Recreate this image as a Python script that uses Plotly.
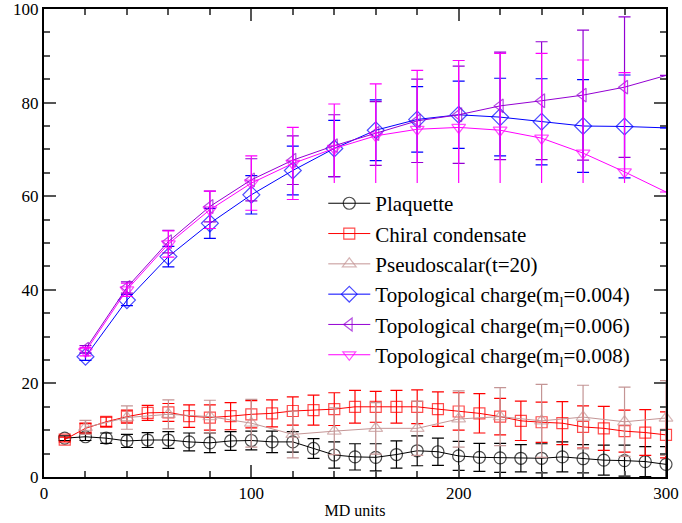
import plotly.graph_objects as go

# ---------------- data ----------------
md_a = [10, 20, 30, 40, 50, 60, 70, 80, 90, 100, 110, 120, 130, 140, 150,
        160, 170, 180, 190, 200, 210, 220, 230, 240, 250, 260, 270, 280, 290, 300]
plaquette = [8.3, 8.6, 8.3, 7.7, 7.9, 7.9, 7.5, 7.3, 7.7, 7.8, 7.5, 7.5, 6.1, 4.7, 4.3,
             4.2, 4.8, 5.6, 5.4, 4.5, 4.2, 4.1, 4.0, 4.0, 4.3, 3.9, 3.6, 3.5, 3.3, 2.7]
plaquette_err = [0.5, 0.8, 1.1, 1.4, 1.6, 1.8, 1.9, 2.1, 2.0, 2.0, 2.3, 2.2, 2.1, 2.8, 2.8,
                 2.9, 2.9, 3.2, 2.9, 3.1, 3.0, 3.1, 2.9, 3.1, 3.2, 3.0, 3.2, 3.3, 3.2, 3.8]
chiral = [8.0, 10.4, 11.8, 12.9, 13.7, 13.8, 13.0, 12.7, 13.0, 13.4, 13.6, 14.1, 14.3, 14.5, 15.0,
          15.0, 15.0, 15.0, 14.5, 14.0, 13.6, 12.9, 12.0, 11.7, 11.5, 10.7, 10.4, 9.8, 9.5, 9.0]
chiral_err = [0.5, 1.0, 1.0, 1.4, 1.6, 1.9, 2.4, 2.7, 2.9, 2.9, 2.9, 3.0, 3.2, 3.5, 3.5,
              3.3, 3.5, 3.6, 3.7, 4.0, 4.2, 3.9, 4.2, 4.3, 4.6, 4.5, 4.7, 4.5, 4.9, 4.9]

md_b = [20, 40, 60, 80, 100, 120, 140, 160, 180, 200, 220, 240, 260, 280, 300]
pseudo = [10.6, 12.7, 13.4, 12.9, 11.5, 9.1, 9.8, 10.4, 10.4, 12.4, 12.9, 12.0, 12.8, 11.8, 12.6]
pseudo_err = [1.5, 2.5, 3.1, 3.5, 5.1, 5.0, 5.0, 5.5, 5.8, 6.0, 6.2, 7.8, 6.8, 7.4, 8.0]
topo004 = [25.7, 37.8, 47.1, 54.2, 60.3, 65.5, 70.2, 74.1, 76.4, 77.4, 76.9, 75.9, 75.0, 74.9, 74.6]
topo004_err = [0.8, 1.2, 2.2, 3.2, 4.1, 5.2, 6.0, 6.5, 7.0, 7.2, 8.3, 9.2, 9.9, 11.0, None]
topo006 = [27.3, 40.5, 50.3, 57.8, 63.5, 67.7, 70.8, 73.4, 76.1, 77.4, 79.3, 80.4, 81.6, 83.3, 85.8]
topo006_err = [0.8, 1.2, 2.4, 3.3, 4.5, 5.2, 6.6, 6.8, 8.9, 10.4, 11.5, 12.6, 13.9, 15.0, None]
topo008 = [26.8, 40.0, 49.8, 57.1, 62.8, 67.0, 70.2, 72.9, 74.3, 74.7, 74.1, 72.4, 69.2, 65.2, 60.9]
topo008_err = [0.9, 1.4, 2.8, 4.0, 5.8, 7.7, 9.5, 11.1, 12.6, 14.3, 16.4, 18.1, 19.9, 21.2, None]

x_ticks = [0, 100, 200, 300]
y_ticks = [0, 20, 40, 60, 80, 100]

# ---------------- figure ----------------
FONT = "Liberation Serif"
fig = go.Figure()


def add(x, y, err, name, color, symbol, size=12, last_hidden=False, clip=True):
    sizes = [size] * len(x)
    if last_hidden:
        sizes[-1] = 0
    fig.add_trace(go.Scatter(
        x=x, y=y, name=name, mode="lines+markers",
        line=dict(color=color, width=1),
        marker=dict(symbol=symbol, size=sizes, color=color, line=dict(color=color, width=1.2)),
        error_y=dict(type="data", array=err, visible=True, color=color, thickness=1.2, width=6),
        cliponaxis=clip,
    ))


add(md_a, plaquette, plaquette_err, "Plaquette", "#000000", "circle-open", 12, clip=False)
add(md_a, chiral, chiral_err, "Chiral condensate", "#ff0000", "square-open", 11, clip=False)
add(md_b, pseudo, pseudo_err, "Pseudoscalar(t=20)", "#c49595", "triangle-up-open", 12, clip=False)
add(md_b, topo004, topo004_err, "Topological charge(m<sub>l</sub>=0.004)", "#0000ff", "diamond-open", 13, last_hidden=True)
add(md_b, topo006, topo006_err, "Topological charge(m<sub>l</sub>=0.006)", "#9400d3", "triangle-left-open", 12, last_hidden=True)
add(md_b, topo008, topo008_err, "Topological charge(m<sub>l</sub>=0.008)", "#ff00ff", "triangle-down-open", 12, last_hidden=True)

axis_common = dict(
    showgrid=False, zeroline=False, showline=True, linecolor="black", linewidth=2,
    mirror="allticks", ticks="inside", ticklen=12, tickwidth=1.5, tickcolor="#555555",
    tickfont=dict(family=FONT, size=17, color="black"), automargin=False,
    ticklabeloverflow="allow",
)

fig.update_layout(
    width=682, height=523,
    margin=dict(l=44, r=16, t=9, b=46, autoexpand=False),
    paper_bgcolor="white", plot_bgcolor="white",
    font=dict(family=FONT, color="black"),
    showlegend=True,
    legend=dict(
        x=0.449, y=0.628, xanchor="left", yanchor="top",
        bgcolor="white", borderwidth=0,
        font=dict(family=FONT, size=21, color="black"),
        itemwidth=42, tracegroupgap=0,
    ),
    xaxis=dict(
        range=[0, 300], tickvals=x_ticks, ticktext=[str(v) for v in x_ticks],
        minor=dict(dtick=20, ticks="inside", ticklen=6, tickcolor="#555555", tickwidth=1.5, showgrid=False),
        title=dict(text="MD units", font=dict(family=FONT, size=16, color="black"), standoff=2),
        **axis_common,
    ),
    yaxis=dict(
        range=[0, 100], tickvals=y_ticks, ticktext=[str(v) for v in y_ticks],
        minor=dict(dtick=5, ticks="inside", ticklen=6, tickcolor="#555555", tickwidth=1.5, showgrid=False),
        **axis_common,
    ),
)

# remove the default page margin so the figure fills the window exactly
fig.write_html("out.html", config={"displayModeBar": False},
               post_script="document.body.style.margin='0';")
